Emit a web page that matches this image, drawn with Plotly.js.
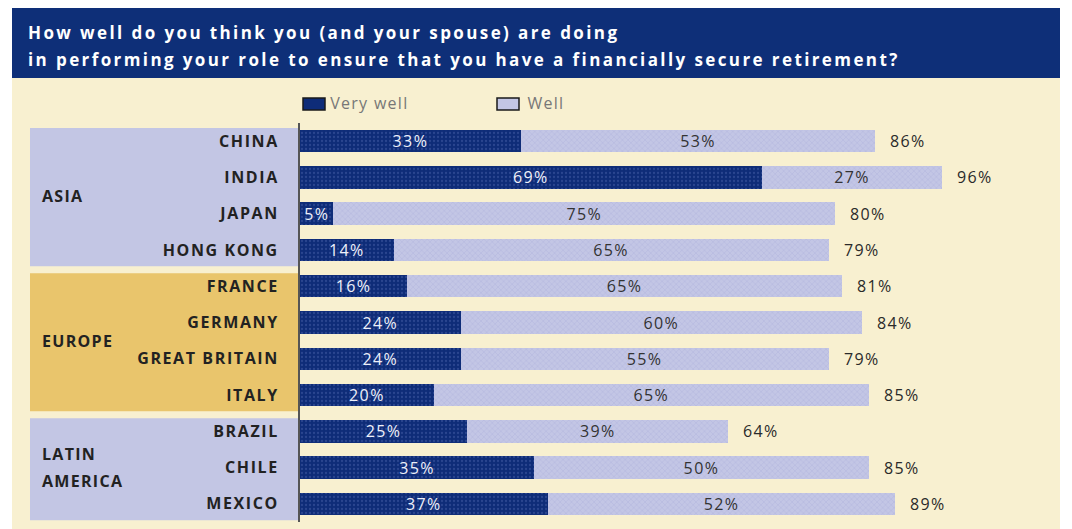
<!DOCTYPE html>
<html>
<head>
<meta charset="utf-8">
<script src="https://cdn.plot.ly/plotly-3.0.1.min.js"></script>
<style>
  body { margin: 0; background: #ffffff; }
  #chart { width: 1072px; height: 529px; }
  #chart .ytick text { letter-spacing: 1.6px; }
  #chart .annotation-text { letter-spacing: 1.3px; }
  #chart .bartext { letter-spacing: 1.4px; }
</style>
</head>
<body>
<div id="chart"></div>
<script>
// survey answers, percent of respondents
var countries = ['CHINA', 'INDIA', 'JAPAN', 'HONG KONG', 'FRANCE', 'GERMANY',
                 'GREAT BRITAIN', 'ITALY', 'BRAZIL', 'CHILE', 'MEXICO'];
var veryWell = [33, 69, 5, 14, 16, 24, 24, 20, 25, 35, 37];
var well = [53, 27, 75, 65, 65, 60, 55, 65, 39, 50, 52];
var totals = [86, 96, 80, 79, 81, 84, 79, 85, 64, 85, 89];

var regionNames = ['ASIA', 'EUROPE', 'LATIN<br>AMERICA'];
var regionFirst = [0, 4, 8];
var regionLast = [3, 7, 10];
var regionColors = ['#c3c6e4', '#e9c56c', '#c3c6e4'];

var seriesNames = ['Very well', 'Well'];

var titleLines = [
    'How well do you think you (and your spouse) are doing',
    'in performing your role to ensure that you have a financially secure retirement?'
];

// page geometry, used to place the frame pieces in paper coords
var W = 1072, H = 529;
var M = { l: 300, r: 36, t: 123, b: 7 };
var PW = W - M.l - M.r, PH = H - M.t - M.b;
function px(x) { return (x - M.l) / PW; }
function py(y) { return (H - M.b - y) / PH; }

var navy = '#0e2c78';
var lavender = '#c3c6e5';
var seriesColors = [navy, lavender];

var data = [{
    type: 'bar',
    orientation: 'h',
    name: seriesNames[0],
    y: countries,
    x: veryWell,
    text: veryWell.map(function (v) { return v + '%'; }),
    textposition: 'inside',
    insidetextanchor: 'middle',
    constraintext: 'none',
    textangle: 0,
    textfont: { family: 'Open Sans', size: 16, color: '#eef0fa' },
    marker: {
        color: navy,
        line: { width: 0 },
        pattern: { shape: '.', fgcolor: '#2a4590', bgcolor: navy, size: 4, solidity: 0.25 }
    },
    hoverinfo: 'skip'
}, {
    type: 'bar',
    orientation: 'h',
    name: seriesNames[1],
    y: countries,
    x: well,
    text: well.map(function (v) { return v + '%'; }),
    textposition: 'inside',
    insidetextanchor: 'middle',
    constraintext: 'none',
    textangle: 0,
    textfont: { family: 'Open Sans', size: 16, color: '#333333' },
    marker: {
        color: lavender,
        line: { width: 0 },
        pattern: { shape: 'x', fgcolor: '#aeb2da', bgcolor: lavender, size: 4, solidity: 0.2 }
    },
    hoverinfo: 'skip'
}];

var shapes = [
    // cream page and blue header
    { type: 'rect', xref: 'paper', yref: 'paper', layer: 'below',
      x0: px(12), x1: px(1060), y0: py(529), y1: py(78),
      fillcolor: '#f8f0d0', line: { width: 0 } },
    { type: 'rect', xref: 'paper', yref: 'paper', layer: 'below',
      x0: px(12), x1: px(1060), y0: py(78), y1: py(8),
      fillcolor: '#0e2f78', line: { width: 0 } }
];

for (var i = 0; i < regionNames.length; i++) {
    shapes.push({
        type: 'rect', xref: 'paper', yref: 'y', layer: 'below',
        x0: px(30), x1: px(298),
        y0: regionFirst[i] - 0.36, y1: regionLast[i] + 0.45,
        fillcolor: regionColors[i], line: { width: 0 }
    });
}

var annotations = [];
titleLines.forEach(function (t, k) {
    annotations.push({
        xref: 'paper', yref: 'paper', x: px(26), y: py(33 + k * 27),
        xanchor: 'left', yanchor: 'middle', showarrow: false,
        text: '<span style="letter-spacing:2.4px">' + t + '</span>', align: 'left',
        font: { family: 'Open Sans', size: 17, weight: 'bold', color: '#ffffff' }
    });
});

// legend drawn by hand so the swatches are wide boxes
var legendX = [303, 497];
seriesNames.forEach(function (n, k) {
    shapes.push({
        type: 'rect', xref: 'paper', yref: 'paper',
        x0: px(legendX[k]), x1: px(legendX[k] + 22), y0: py(110), y1: py(98),
        fillcolor: seriesColors[k], line: { color: '#1a1a1a', width: 1.5 }
    });
    annotations.push({
        xref: 'paper', yref: 'paper', x: px(legendX[k] + 31), y: py(103),
        xanchor: 'left', yanchor: 'middle', showarrow: false, text: n,
        font: { family: 'Open Sans', size: 16, color: '#777777' }
    });
});

// region names, one annotation per line so the line gap can match
for (var i = 0; i < regionNames.length; i++) {
    var lines = regionNames[i].split('<br>');
    lines.forEach(function (ln, k) {
        annotations.push({
            xref: 'paper', yref: 'y', x: px(40), y: (regionFirst[i] + regionLast[i]) / 2,
            yshift: ((lines.length - 1) / 2 - k) * 27,
            xanchor: 'left', yanchor: 'middle', showarrow: false, align: 'left',
            text: ln,
            font: { family: 'Open Sans', size: 16, weight: 'bold', color: '#222222' }
        });
    });
}
for (var i = 0; i < countries.length; i++) {
    annotations.push({
        xref: 'x', yref: 'y', x: totals[i], y: countries[i],
        xanchor: 'left', xshift: 15, showarrow: false,
        text: totals[i] + '%',
        font: { family: 'Open Sans', size: 16, color: '#2a2a2a' }
    });
}

var layout = {
    width: W,
    height: H,
    margin: M,
    paper_bgcolor: '#ffffff',
    plot_bgcolor: 'rgba(0,0,0,0)',
    barmode: 'stack',
    bargap: 0.38,
    showlegend: false,
    xaxis: {
        range: [0, 110],
        showgrid: false, zeroline: false, showticklabels: false, showline: false
    },
    yaxis: {
        type: 'category',
        range: [10.5, -0.5],
        showgrid: false, zeroline: false,
        showline: true, linecolor: '#555555', linewidth: 2,
        ticks: '',
        ticklabelstandoff: 16,
        tickfont: { family: 'Open Sans', size: 16, weight: 'bold', color: '#222222' }
    },
    shapes: shapes,
    annotations: annotations
};

Plotly.newPlot('chart', data, layout, { staticPlot: true, displayModeBar: false });
</script>
</body>
</html>
